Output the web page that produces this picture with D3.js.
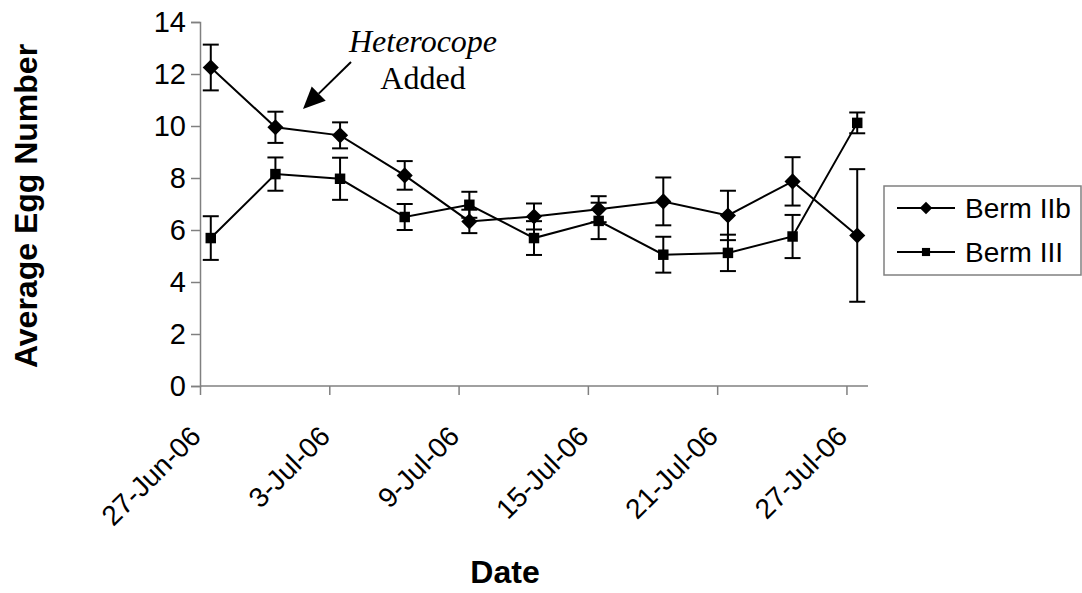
<!DOCTYPE html>
<html>
<head>
<meta charset="utf-8">
<script src="https://cdn.jsdelivr.net/npm/d3@7"></script>
<style>
  body { margin: 0; background: #fff; }
  text { font-family: Arial, "Liberation Sans", sans-serif; }
</style>
</head>
<body>
<svg id="chart" width="1082" height="593"></svg>
<script>
// Sampling dates (2006)
const dates = ["2006-06-27", "2006-06-30", "2006-07-03", "2006-07-06", "2006-07-09", "2006-07-12",
               "2006-07-15", "2006-07-18", "2006-07-21", "2006-07-24", "2006-07-27"];

// Berm IIb - mean and error
const bermIIb    = [12.25, 9.95, 9.64, 8.10, 6.33, 6.52, 6.80, 7.10, 6.56, 7.87, 5.79];
const bermIIbErr = [0.88, 0.60, 0.50, 0.55, 0.45, 0.50, 0.50, 0.92, 0.95, 0.93, 2.55];

// Berm III - mean and error
const bermIII    = [5.69, 8.15, 7.97, 6.50, 6.97, 5.69, 6.35, 5.05, 5.12, 5.75, 10.12];
const bermIIIErr = [0.84, 0.64, 0.81, 0.50, 0.50, 0.65, 0.70, 0.69, 0.70, 0.83, 0.40];

// Axis ticks
const yTicks = [0, 2, 4, 6, 8, 10, 12, 14];
const xTickDates = ["2006-06-27", "2006-07-03", "2006-07-09", "2006-07-15", "2006-07-21", "2006-07-27"];

const parse = d3.timeParse("%Y-%m-%d");
const fmt = d3.timeFormat("%-d-%b-%y");

const svg = d3.select("#chart");
const plot = { left: 200, right: 868, top: 22, bottom: 386 };

// Scales
const x = d3.scaleTime()
  .domain([parse("2006-06-27"), parse("2006-07-28")])
  .range([plot.left, plot.right]);
const y = d3.scaleLinear()
  .domain([0, 14])
  .range([plot.bottom, plot.top]);

// points sit in the middle of their day
const px = d => x(d3.timeHour.offset(parse(d), 12));

// diamond = square turned 45 degrees
const series = [
  { name: "Berm IIb", values: bermIIb, err: bermIIbErr, size: 130, rot: 45 },
  { name: "Berm III", values: bermIII, err: bermIIIErr, size: 110, rot: 0 }
];

// Y axis
const yAxis = svg.append("g")
  .attr("transform", `translate(${plot.left},0)`)
  .call(d3.axisLeft(y).tickValues(yTicks).tickSize(9).tickPadding(5));
yAxis.select(".domain").attr("stroke", "#808080").attr("stroke-width", 1.5);
yAxis.selectAll(".tick line").attr("stroke", "#808080").attr("stroke-width", 1.5);
yAxis.selectAll(".tick text")
  .attr("font-size", 29)
  .attr("fill", "#000")
  .style("font-family", "Arial, 'Liberation Sans', sans-serif");

// X axis
const xAxis = svg.append("g")
  .attr("transform", `translate(0,${plot.bottom})`)
  .call(d3.axisBottom(x).tickValues(xTickDates.map(parse)).tickSize(9).tickFormat(fmt));
xAxis.select(".domain").attr("stroke", "#808080").attr("stroke-width", 1.5)
  .attr("d", `M${plot.left},0H${plot.right}`);
xAxis.selectAll(".tick line").attr("stroke", "#808080").attr("stroke-width", 1.5);
xAxis.selectAll(".tick text")
  .attr("font-size", 28)
  .attr("fill", "#000")
  .attr("text-anchor", "end")
  .attr("y", 0)
  .attr("dy", 0)
  .attr("transform", "translate(2,52) rotate(-45)")
  .style("font-family", "Arial, 'Liberation Sans', sans-serif");

// Series: lines, error bars, markers
series.forEach(s => {
  const g = svg.append("g");
  const pts = dates.map((d, i) => ({ d, v: s.values[i], e: s.err[i] }));

  g.append("path")
    .datum(pts)
    .attr("fill", "none")
    .attr("stroke", "#000")
    .attr("stroke-width", 2)
    .attr("d", d3.line().x(p => px(p.d)).y(p => y(p.v)));

  const eb = g.selectAll(".err").data(pts).join("g").attr("class", "err")
    .attr("stroke", "#000").attr("stroke-width", 2);
  eb.append("line")
    .attr("x1", p => px(p.d)).attr("x2", p => px(p.d))
    .attr("y1", p => y(p.v + p.e)).attr("y2", p => y(p.v - p.e));
  eb.append("line")
    .attr("x1", p => px(p.d) - 8).attr("x2", p => px(p.d) + 8)
    .attr("y1", p => y(p.v + p.e)).attr("y2", p => y(p.v + p.e));
  eb.append("line")
    .attr("x1", p => px(p.d) - 8).attr("x2", p => px(p.d) + 8)
    .attr("y1", p => y(p.v - p.e)).attr("y2", p => y(p.v - p.e));

  g.selectAll(".mark").data(pts).join("path").attr("class", "mark")
    .attr("d", d3.symbol().type(d3.symbolSquare).size(s.size))
    .attr("transform", p => `translate(${px(p.d)},${y(p.v)}) rotate(${s.rot})`)
    .attr("fill", "#000");
});

// Axis titles
svg.append("text")
  .attr("transform", `translate(37,${(plot.top + plot.bottom) / 2 + 2}) rotate(-90)`)
  .attr("text-anchor", "middle")
  .attr("font-size", 32)
  .attr("font-weight", "bold")
  .text("Average Egg Number");

svg.append("text")
  .attr("x", 505)
  .attr("y", 583)
  .attr("text-anchor", "middle")
  .attr("font-size", 32)
  .attr("font-weight", "bold")
  .text("Date");

// Annotation
const ann = svg.append("g");
ann.append("text")
  .attr("x", 423).attr("y", 52)
  .attr("text-anchor", "middle")
  .attr("font-size", 32)
  .attr("font-style", "italic")
  .style("font-family", "'Liberation Serif', 'Times New Roman', serif")
  .text("Heterocope");
ann.append("text")
  .attr("x", 423).attr("y", 89)
  .attr("text-anchor", "middle")
  .attr("font-size", 32)
  .style("font-family", "'Liberation Serif', 'Times New Roman', serif")
  .text("Added");

// arrow line with filled head
const arrow = { x1: 351, y1: 62, x2: 303, y2: 109 };
const ang = Math.atan2(arrow.y2 - arrow.y1, arrow.x2 - arrow.x1);
const hl = 22, hw = 10;
const bx = arrow.x2 - hl * Math.cos(ang), by = arrow.y2 - hl * Math.sin(ang);
ann.append("line")
  .attr("x1", arrow.x1).attr("y1", arrow.y1)
  .attr("x2", bx).attr("y2", by)
  .attr("stroke", "#000").attr("stroke-width", 2);
ann.append("path")
  .attr("d", `M${arrow.x2},${arrow.y2}L${bx + hw * Math.sin(ang)},${by - hw * Math.cos(ang)}L${bx - hw * Math.sin(ang)},${by + hw * Math.cos(ang)}Z`)
  .attr("fill", "#000");

// Legend
const lg = svg.append("g");
lg.append("rect")
  .attr("x", 884).attr("y", 186)
  .attr("width", 197).attr("height", 89)
  .attr("fill", "#fff")
  .attr("stroke", "#808080").attr("stroke-width", 1.5);
series.forEach((s, i) => {
  const cy = 208 + i * 44;
  lg.append("line")
    .attr("x1", 897).attr("x2", 955)
    .attr("y1", cy).attr("y2", cy)
    .attr("stroke", "#000").attr("stroke-width", 2);
  lg.append("path")
    .attr("d", d3.symbol().type(d3.symbolSquare).size(s.size * 0.6))
    .attr("transform", `translate(926,${cy}) rotate(${s.rot})`)
    .attr("fill", "#000");
  lg.append("text")
    .attr("x", 965).attr("y", cy + 10)
    .attr("font-size", 28)
    .text(s.name);
});
</script>
</body>
</html>
